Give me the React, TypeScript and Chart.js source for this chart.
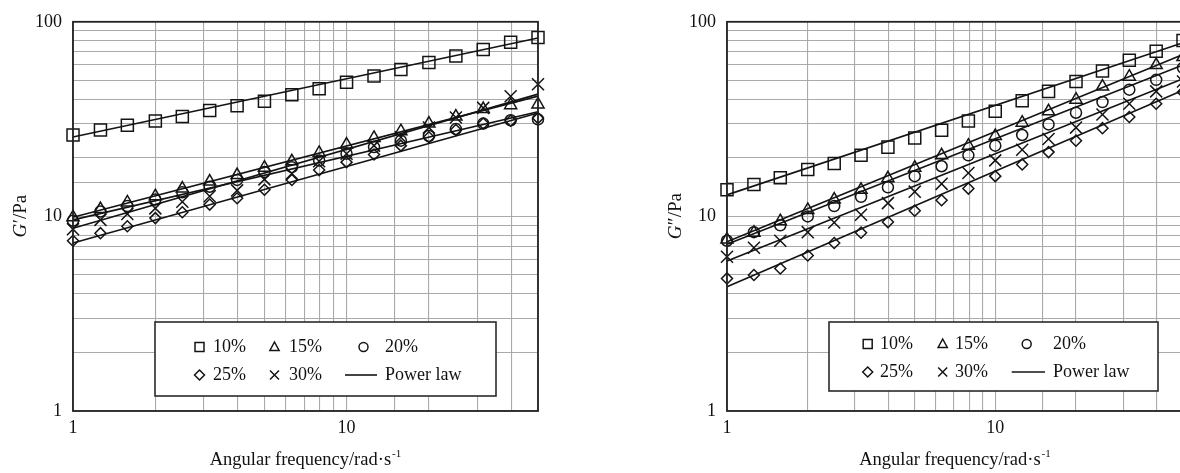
import React, { useEffect, useRef } from 'react';
import { Chart, registerables } from 'chart.js';

Chart.register(...registerables);

// ---------- data ----------
// angular frequency, rad/s
const FREQ = [1, 1.26, 1.58, 2, 2.51, 3.16, 3.98, 5.01, 6.31, 7.94, 10, 12.6, 15.8, 20, 25.1, 31.6, 39.8, 50.1];
const FIT_FREQ = [1, 50.1];
const CONC = ['10%', '15%', '20%', '25%', '30%'];
const X_TICK_LABELS = [1, 10];
const Y_TICK_LABELS = [1, 10, 100];

// G' (Pa)
const G1_10 = [26.2, 27.8, 29.4, 30.9, 32.6, 35.0, 37.0, 39.1, 42.2, 45.3, 48.9, 52.7, 56.9, 61.8, 66.7, 72.0, 78.5, 83.0];
const G1_15 = [9.9, 10.9, 11.8, 12.7, 13.9, 15.1, 16.3, 17.8, 19.2, 21.2, 23.4, 25.3, 27.4, 30.0, 32.6, 35.6, 37.3, 37.6];
const G1_20 = [9.5, 10.6, 11.3, 12.2, 13.3, 14.2, 15.4, 16.9, 17.9, 19.4, 21.0, 22.7, 24.5, 25.9, 28.1, 30.0, 31.2, 31.5];
const G1_25 = [7.5, 8.2, 8.9, 9.8, 10.5, 11.5, 12.4, 13.7, 15.4, 17.3, 19.0, 20.8, 23.1, 25.5, 27.8, 30.0, 31.0, 32.0];
const G1_30 = [8.6, 9.6, 10.3, 11.0, 11.9, 12.7, 13.6, 15.5, 16.6, 19.2, 21.0, 23.1, 25.5, 28.6, 32.2, 36.1, 41.4, 47.8];
// power-law fits of G' (values at FIT_FREQ)
const F1_10 = [25.6, 82.5];
const F1_15 = [9.9, 41.5];
const F1_20 = [9.6, 34.5];
const F1_25 = [7.3, 34.0];
const F1_30 = [8.7, 42.5];

// G'' (Pa)
const G2_10 = [13.7, 14.6, 15.8, 17.4, 18.7, 20.6, 22.7, 25.3, 27.7, 30.9, 34.7, 39.3, 43.9, 49.3, 55.8, 63.5, 70.5, 80.1];
const G2_15 = [7.6, 8.25, 9.45, 10.8, 12.2, 13.7, 15.7, 17.8, 20.6, 23.1, 25.9, 30.3, 34.7, 39.8, 46.5, 52.2, 59.9, 65.9];
const G2_20 = [7.5, 8.3, 9.0, 10.0, 11.3, 12.6, 14.1, 16.1, 18.1, 20.6, 23.1, 26.2, 29.7, 34.1, 38.7, 44.8, 50.3, 58.0];
const G2_25 = [4.8, 5.0, 5.4, 6.3, 7.3, 8.25, 9.35, 10.7, 12.1, 13.9, 16.1, 18.5, 21.4, 24.5, 28.4, 32.4, 37.9, 43.5];
const G2_30 = [6.2, 6.9, 7.5, 8.3, 9.3, 10.2, 11.7, 13.4, 14.7, 16.7, 19.4, 22.0, 25.0, 28.6, 33.4, 37.9, 43.9, 49.3];
// power-law fits of G''
const F2_10 = [12.9, 78.0];
const F2_15 = [7.4, 68.0];
const F2_20 = [7.2, 60.0];
const F2_25 = [4.35, 44.5];
const F2_30 = [5.9, 51.0];

// ---------- styles ----------
const INK = '#141414';
const GRID = '#aaaaaa';
const SERIF = "'Liberation Serif', 'Times New Roman', 'DejaVu Serif', serif";
const POINT_STYLES = ['rect', 'triangle', 'circle', 'rectRot', 'crossRot'];
const POINT_RADII = [8.5, 7, 5.5, 5.5, 8.5];

function buildDatasets(series: number[][], fits: number[][]) {
  const ds: any[] = [];
  series.forEach((s, i) => {
    ds.push({
      label: CONC[i],
      data: FREQ.map((x, j) => ({ x, y: s[j] })),
      showLine: false,
      pointStyle: POINT_STYLES[i],
      pointRadius: POINT_RADII[i],
      pointBorderWidth: 1.5,
      pointBorderColor: INK,
      pointBackgroundColor: 'rgba(0,0,0,0)',
      clip: false,
    });
  });
  fits.forEach((f, i) => {
    ds.push({
      label: 'Power law ' + CONC[i],
      data: FIT_FREQ.map((x, j) => ({ x, y: f[j] })),
      showLine: true,
      borderColor: INK,
      borderWidth: 1.6,
      pointRadius: 0,
      clip: false,
    });
  });
  return ds;
}

function drawMarker(ctx: CanvasRenderingContext2D, kind: string, x: number, y: number) {
  ctx.beginPath();
  if (kind === 'rect') {
    ctx.rect(x - 4.5, y - 4.5, 9, 9);
  } else if (kind === 'triangle') {
    ctx.moveTo(x, y - 5);
    ctx.lineTo(x + 4.6, y + 3.5);
    ctx.lineTo(x - 4.6, y + 3.5);
    ctx.closePath();
  } else if (kind === 'circle') {
    ctx.arc(x, y, 4.5, 0, Math.PI * 2);
  } else if (kind === 'rectRot') {
    ctx.moveTo(x, y - 5);
    ctx.lineTo(x + 5, y);
    ctx.lineTo(x, y + 5);
    ctx.lineTo(x - 5, y);
    ctx.closePath();
  } else if (kind === 'crossRot') {
    ctx.moveTo(x - 4.5, y - 4.5);
    ctx.lineTo(x + 4.5, y + 4.5);
    ctx.moveTo(x + 4.5, y - 4.5);
    ctx.lineTo(x - 4.5, y + 4.5);
  }
  ctx.stroke();
}

interface PanelCfg {
  yMain: string;
  yTitleX: number;
  box: [number, number, number, number];
  rows: [number, number];
  markX: [number, number, number];
  textX: [number, number, number];
  lineX: [number, number];
}

function makeDecor(cfg: PanelCfg) {
  return {
    id: 'decor',
    afterDraw(chart: any) {
      const ctx: CanvasRenderingContext2D = chart.ctx;
      const ca = chart.chartArea;
      ctx.save();
      // legend box
      const [bx, by, bw, bh] = cfg.box;
      ctx.fillStyle = '#ffffff';
      ctx.fillRect(bx, by, bw, bh);
      ctx.strokeStyle = '#2a2a2a';
      ctx.lineWidth = 1.6;
      ctx.strokeRect(bx, by, bw, bh);
      // legend entries
      ctx.strokeStyle = INK;
      ctx.lineWidth = 1.5;
      ctx.fillStyle = '#111';
      ctx.font = `18px ${SERIF}`;
      ctx.textBaseline = 'middle';
      ctx.textAlign = 'left';
      const entries = [
        { kind: POINT_STYLES[0], text: CONC[0], r: 0, c: 0 },
        { kind: POINT_STYLES[1], text: CONC[1], r: 0, c: 1 },
        { kind: POINT_STYLES[2], text: CONC[2], r: 0, c: 2 },
        { kind: POINT_STYLES[3], text: CONC[3], r: 1, c: 0 },
        { kind: POINT_STYLES[4], text: CONC[4], r: 1, c: 1 },
        { kind: 'line', text: 'Power law', r: 1, c: 2 },
      ];
      entries.forEach((e) => {
        const y = cfg.rows[e.r];
        if (e.kind === 'line') {
          ctx.lineWidth = 1.6;
          ctx.beginPath();
          ctx.moveTo(cfg.lineX[0], y);
          ctx.lineTo(cfg.lineX[1], y);
          ctx.stroke();
          ctx.lineWidth = 1.5;
        } else {
          drawMarker(ctx, e.kind, cfg.markX[e.c], y);
        }
        ctx.fillText(e.text, cfg.textX[e.c], y + 0.5);
      });
      // frame
      ctx.strokeStyle = '#222';
      ctx.lineWidth = 1.8;
      ctx.strokeRect(ca.left, ca.top, ca.right - ca.left, ca.bottom - ca.top);

      // x title
      const main = 'Angular frequency/rad·s';
      const sup = '-1';
      ctx.fillStyle = '#111';
      ctx.textBaseline = 'alphabetic';
      ctx.font = `18.5px ${SERIF}`;
      const wMain = ctx.measureText(main).width;
      ctx.font = `11px ${SERIF}`;
      const wSup = ctx.measureText(sup).width + 1;
      const cx = (ca.left + ca.right) / 2;
      const startX = cx - (wMain + wSup) / 2;
      ctx.font = `18.5px ${SERIF}`;
      ctx.fillText(main, startX, 465);
      ctx.font = `11px ${SERIF}`;
      ctx.fillText(sup, startX + wMain + 1, 457);

      // y title
      const cy = (ca.top + ca.bottom) / 2;
      ctx.save();
      ctx.translate(cfg.yTitleX, cy);
      ctx.rotate(-Math.PI / 2);
      ctx.font = `italic 19px ${SERIF}`;
      const wG = ctx.measureText('G').width;
      ctx.font = `19px ${SERIF}`;
      const wRest = ctx.measureText(cfg.yMain).width;
      const sx = -(wG + wRest) / 2;
      ctx.font = `italic 19px ${SERIF}`;
      ctx.fillText('G', sx, 0);
      ctx.font = `19px ${SERIF}`;
      ctx.fillText(cfg.yMain, sx + wG + 0.5, 0);
      ctx.restore();

      ctx.restore();
    },
  };
}

function makeConfig(series: number[][], fits: number[][], yAxisW: number, padRight: number, cfg: PanelCfg): any {
  const tickFont = { family: SERIF, size: 18 };
  return {
    type: 'scatter',
    data: { datasets: buildDatasets(series, fits) },
    options: {
      responsive: false,
      animation: false,
      events: [],
      layout: { padding: { top: 16, right: padRight, left: 0, bottom: 0 } },
      plugins: { legend: { display: false }, tooltip: { enabled: false }, title: { display: false } },
      scales: {
        x: {
          type: 'logarithmic',
          min: 1,
          max: 50.1,
          afterFit: (s: any) => { s.height = 62; },
          grid: { color: GRID, lineWidth: 1.1, drawTicks: false },
          border: { display: false },
          ticks: {
            autoSkip: false,
            maxRotation: 0,
            padding: 6,
            color: '#111',
            font: tickFont,
            callback: (v: number) => (X_TICK_LABELS.includes(v) ? String(v) : ''),
          },
        },
        y: {
          type: 'logarithmic',
          min: 1,
          max: 100,
          afterFit: (s: any) => { s.width = yAxisW; },
          grid: { color: GRID, lineWidth: 1.1, drawTicks: false },
          border: { display: false },
          ticks: {
            autoSkip: false,
            padding: 11,
            color: '#111',
            font: tickFont,
            callback: (v: number) => (Y_TICK_LABELS.includes(v) ? String(v) : ''),
          },
        },
      },
    },
    plugins: [makeDecor(cfg)],
  };
}

export default function App() {
  const leftRef = useRef<HTMLCanvasElement>(null);
  const rightRef = useRef<HTMLCanvasElement>(null);

  useEffect(() => {
    const left = new Chart(
      leftRef.current!,
      makeConfig(
        [G1_10, G1_15, G1_20, G1_25, G1_30],
        [F1_10, F1_15, F1_20, F1_25, F1_30],
        73,
        22,
        {
          yMain: '′/Pa',
          yTitleX: 25.5,
          box: [155, 322, 341, 74],
          rows: [347, 375],
          markX: [199.5, 274.5, 363.5],
          textX: [213, 289, 385],
          lineX: [345, 377],
        }
      )
    );
    const right = new Chart(
      rightRef.current!,
      makeConfig(
        [G2_10, G2_15, G2_20, G2_25, G2_30],
        [F2_10, F2_15, F2_20, F2_25, F2_30],
        87,
        17,
        {
          yMain: '″/Pa',
          yTitleX: 41,
          box: [189, 322, 329, 69],
          rows: [344, 372],
          markX: [227.7, 302.7, 386.7],
          textX: [240, 315, 413],
          lineX: [371.7, 405],
        }
      )
    );
    return () => {
      left.destroy();
      right.destroy();
    };
  }, []);

  return (
    <div
      style={{
        position: 'fixed',
        left: 0,
        top: 0,
        width: 1180,
        height: 473,
        overflow: 'hidden',
        background: '#fff',
      }}
    >
      <canvas
        ref={leftRef}
        width={560}
        height={473}
        style={{ position: 'absolute', left: 0, top: 0, width: 560, height: 473 }}
      />
      <canvas
        ref={rightRef}
        width={560}
        height={473}
        style={{ position: 'absolute', left: 640, top: 0, width: 560, height: 473 }}
      />
    </div>
  );
}
